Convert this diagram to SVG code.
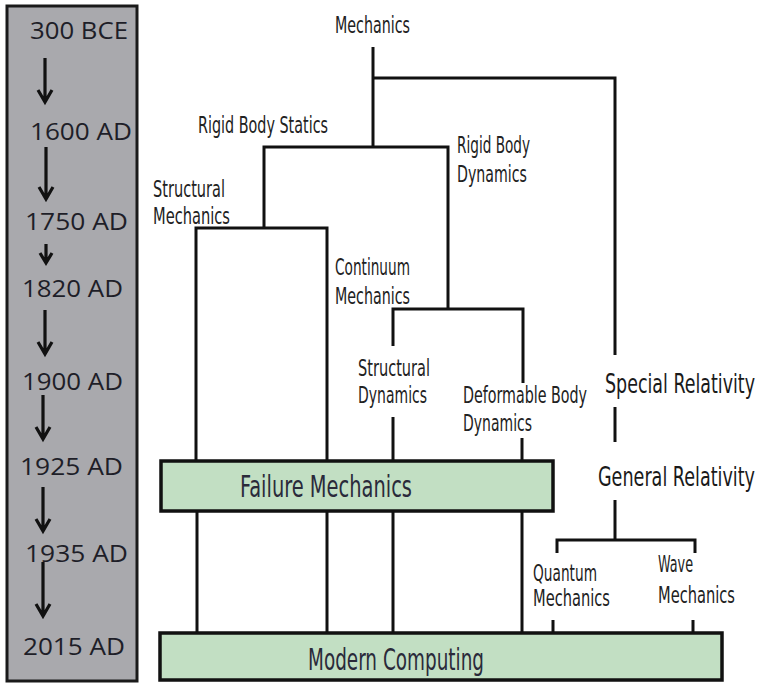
<svg xmlns="http://www.w3.org/2000/svg" width="763" height="685" viewBox="0 0 763 685">
<style>
.yr{font-family:"Open Sans","Noto Sans","Liberation Sans",sans-serif;font-size:24px;fill:#1e1e28}
.lb{font-family:"DejaVu Sans Condensed","DejaVu Sans","Liberation Sans",sans-serif;font-stretch:condensed;font-size:23px;fill:#222}
.big{font-family:"DejaVu Sans Condensed","DejaVu Sans","Liberation Sans",sans-serif;font-stretch:condensed;font-size:27px;fill:#1a1a1a}
.bx{font-family:"DejaVu Sans Condensed","DejaVu Sans","Liberation Sans",sans-serif;font-stretch:condensed;font-size:30px;fill:#2a2a3a}
.ln{fill:none;stroke:#111;stroke-width:3;stroke-linecap:butt;stroke-linejoin:miter}
.ar{fill:none;stroke:#111;stroke-width:3.2}
.box{fill:#c2dfc3;stroke:#111;stroke-width:3.5}
</style>
<rect width="763" height="685" fill="#ffffff"/>
<g id="timeline">
<rect x="7" y="6" width="130" height="675" fill="#a9a9ad" stroke="#1a1a1a" stroke-width="3"/>
<text class="yr" x="30" y="39" textLength="98" lengthAdjust="spacingAndGlyphs">300 BCE</text>
<text class="yr" x="30" y="140" textLength="102" lengthAdjust="spacingAndGlyphs">1600 AD</text>
<text class="yr" x="25" y="230" textLength="103" lengthAdjust="spacingAndGlyphs">1750 AD</text>
<text class="yr" x="22" y="297" textLength="101" lengthAdjust="spacingAndGlyphs">1820 AD</text>
<text class="yr" x="22" y="390" textLength="101" lengthAdjust="spacingAndGlyphs">1900 AD</text>
<text class="yr" x="20" y="475" textLength="103" lengthAdjust="spacingAndGlyphs">1925 AD</text>
<text class="yr" x="25" y="562" textLength="103" lengthAdjust="spacingAndGlyphs">1935 AD</text>
<text class="yr" x="23" y="655" textLength="102" lengthAdjust="spacingAndGlyphs">2015 AD</text>
<path class="ar" d="M45 58V102M38 90L45 102L52 90"/>
<path class="ar" d="M46 147V199M39 187L46 199L53 187"/>
<path class="ar" d="M46 244V263M40 253L46 263L52 253"/>
<path class="ar" d="M45 310V354M38 342L45 354L52 342"/>
<path class="ar" d="M43 395V439M36 427L43 439L50 427"/>
<path class="ar" d="M43 487V531M36 519L43 531L50 519"/>
<path class="ar" d="M43 562V616M36 604L43 616L50 604"/>
</g>
<g id="connectors">
<path class="ln" d="M373 47V147"/>
<path class="ln" d="M373 78H615V355"/>
<path class="ln" d="M615 407V442"/>
<path class="ln" d="M615 500V540"/>
<path class="ln" d="M557 553V540H695V553"/>
<path class="ln" d="M264 228V147H448V309"/>
<path class="ln" d="M196 461V228H327V461"/>
<path class="ln" d="M393 346V309H523V383"/>
<path class="ln" d="M393 417V461"/>
<path class="ln" d="M522 438V461"/>
<path class="ln" d="M197 511V632M327 511V632M393 511V632M522 511V632"/>
<path class="ln" d="M553 620V632M693 620V632"/>
</g>
<g id="mechanics"><text class="lb" x="335" y="33" textLength="75" lengthAdjust="spacingAndGlyphs">Mechanics</text></g>
<g id="rigid-body-statics"><text class="lb" x="198" y="133" textLength="130" lengthAdjust="spacingAndGlyphs">Rigid Body Statics</text></g>
<g id="rigid-body-dynamics"><text class="lb" x="457" y="153" textLength="73" lengthAdjust="spacingAndGlyphs">Rigid Body</text><text class="lb" x="457" y="182" textLength="70" lengthAdjust="spacingAndGlyphs">Dynamics</text></g>
<g id="structural-mechanics"><text class="lb" x="153" y="197" textLength="72" lengthAdjust="spacingAndGlyphs">Structural</text><text class="lb" x="153" y="224" textLength="77" lengthAdjust="spacingAndGlyphs">Mechanics</text></g>
<g id="continuum-mechanics"><text class="lb" x="335" y="275" textLength="75" lengthAdjust="spacingAndGlyphs">Continuum</text><text class="lb" x="335" y="304" textLength="75" lengthAdjust="spacingAndGlyphs">Mechanics</text></g>
<g id="structural-dynamics"><text class="lb" x="358" y="376" textLength="72" lengthAdjust="spacingAndGlyphs">Structural</text><text class="lb" x="358" y="403" textLength="69" lengthAdjust="spacingAndGlyphs">Dynamics</text></g>
<g id="deformable-body-dynamics"><text class="lb" x="463" y="403" textLength="124" lengthAdjust="spacingAndGlyphs">Deformable  Body</text><text class="lb" x="463" y="431" textLength="69" lengthAdjust="spacingAndGlyphs">Dynamics</text></g>
<g id="special-relativity"><text class="big" x="605" y="393" textLength="150" lengthAdjust="spacingAndGlyphs">Special Relativity</text></g>
<g id="general-relativity"><text class="big" x="598" y="486" textLength="157" lengthAdjust="spacingAndGlyphs">General Relativity</text></g>
<g id="quantum-mechanics"><text class="lb" x="533" y="581" textLength="64" lengthAdjust="spacingAndGlyphs">Quantum</text><text class="lb" x="533" y="606" textLength="77" lengthAdjust="spacingAndGlyphs">Mechanics</text></g>
<g id="wave-mechanics"><text class="lb" x="658" y="572" textLength="35" lengthAdjust="spacingAndGlyphs">Wave</text><text class="lb" x="658" y="603" textLength="77" lengthAdjust="spacingAndGlyphs">Mechanics</text></g>
<g id="failure-mechanics"><rect class="box" x="161" y="461" width="392" height="50"/><text class="bx" x="240" y="497" textLength="172" lengthAdjust="spacingAndGlyphs">Failure Mechanics</text></g>
<g id="modern-computing"><rect class="box" x="160" y="633" width="562" height="47"/><text class="bx" x="308" y="670" textLength="176" lengthAdjust="spacingAndGlyphs">Modern Computing</text></g>
</svg>
